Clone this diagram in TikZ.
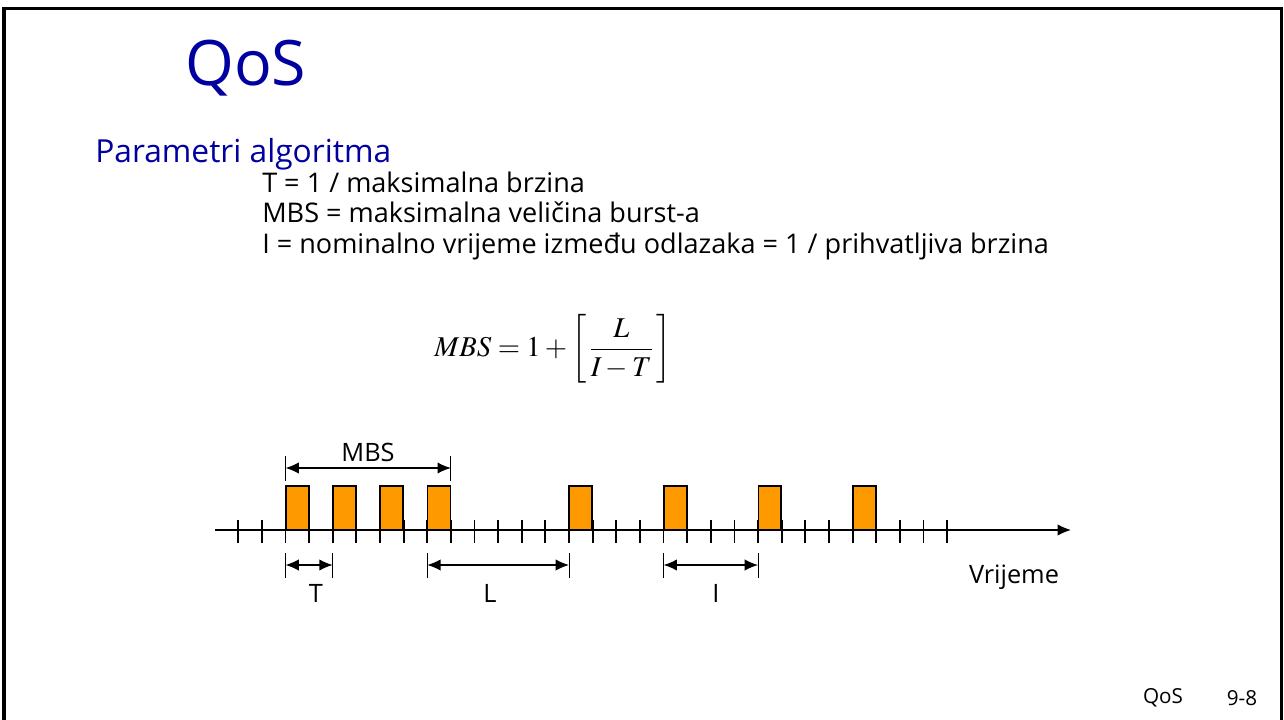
\documentclass[tikz,border=0pt]{standalone}
\usepackage{mathptmx}
\usepackage{fontspec}
\setmainfont{Open Sans}
\usepackage{xcolor}
\usetikzlibrary{arrows.meta,positioning}
\definecolor{slideblue}{RGB}{0,0,160}
\definecolor{cellorange}{RGB}{255,153,0}
\newcommand\tickx[1]{238.2+23.63*#1}

\begin{document}
\begin{tikzpicture}[x=0.75pt,y=-0.75pt,>={Latex[length=10pt,width=8.5pt]}]
 \tikzset{head/.style={text=slideblue,anchor=base west,inner sep=0pt},
          txt/.style={anchor=base west,inner sep=0pt,font=\fontsize{20.3}{24}\selectfont},
          lbl/.style={inner sep=0pt,font=\fontsize{19}{22}\selectfont},
          cell/.style={draw,line width=1.3pt,fill=cellorange,minimum width=17.2pt,minimum height=32.5pt,inner sep=0pt},
          dim/.style={<->,line width=1pt},
          bar/.style={line width=0.6pt},
          tck/.style={line width=1.4pt}}
 \useasboundingbox (0,0) rectangle (1284,720);
 \draw[line width=2.4pt] (4,720) -- (4,8.7) -- (1281.3,8.7) -- (1281.3,720);

 % heading and text
 \node[head,font=\fontsize{47}{50}\selectfont] (title) at (185,86) {QoS};
 \node[head,font=\fontsize{23.8}{28}\selectfont] (sub) at (95,163) {Parametri algoritma};
 \node[txt] (l1) at (262,193) {T = 1 / maksimalna brzina};
 \node[txt] (l2) at (262,223) {MBS = maksimalna veličina burst-a};
 \node[txt] (l3) at (262,253) {I = nominalno vrijeme između odlazaka = 1 / prihvatljiva brzina};
 \node[font=\fontsize{21.5}{26}\selectfont] (eq) at (553,349)
  {$\displaystyle MBS=1+\left[\,\frac{\rule{0pt}{17pt}L}{\rule[-5pt]{0pt}{5pt}I-T}\,\right]$};

 % time axis
 \coordinate (a0) at (215,530);
 \coordinate (a1) at (1071,530);
 \draw[->,line width=1pt] (a0) -- (a1);
 \foreach \i in {0,...,30}
  \draw[tck] ({\tickx{\i}},520) -- ({\tickx{\i}},543);
 \foreach \k [count=\n] in {2,4,6,8,14,18,22,26}
  \node[cell] (c\n) at ({\tickx{\k}+11.8},508) {};

 % dimensions
 \foreach \p/\a/\b/\y in {m/2/9/468,t/2/4/565,l/8/14/565,i/18/22/565}{
  \coordinate (\p0) at ({\tickx{\a}},\y);
  \coordinate (\p1) at ({\tickx{\b}},\y);
  \draw[bar] ({\tickx{\a}},\y-12) -- ({\tickx{\a}},\y+13);
  \draw[bar] ({\tickx{\b}},\y-12) -- ({\tickx{\b}},\y+13);
  \draw[dim] (\p0) -- (\p1);}
 \node[lbl] (mbs) at (368,452) {MBS};
 \node[lbl] (tl) at (316,593) {T};
 \node[lbl] (ll) at (490,593) {L};
 \node[lbl] (il) at (716,593) {I};
 \node[lbl] (vr) at (1014,577) {Vrijeme};

 % footer
 \node[inner sep=0pt,font=\fontsize{15.5}{18}\selectfont] (f1) at (1163,698) {QoS};
 \node[inner sep=0pt,font=\fontsize{15.5}{18}\selectfont] (f2) at (1242,698) {9-8};
\end{tikzpicture}
\end{document}
